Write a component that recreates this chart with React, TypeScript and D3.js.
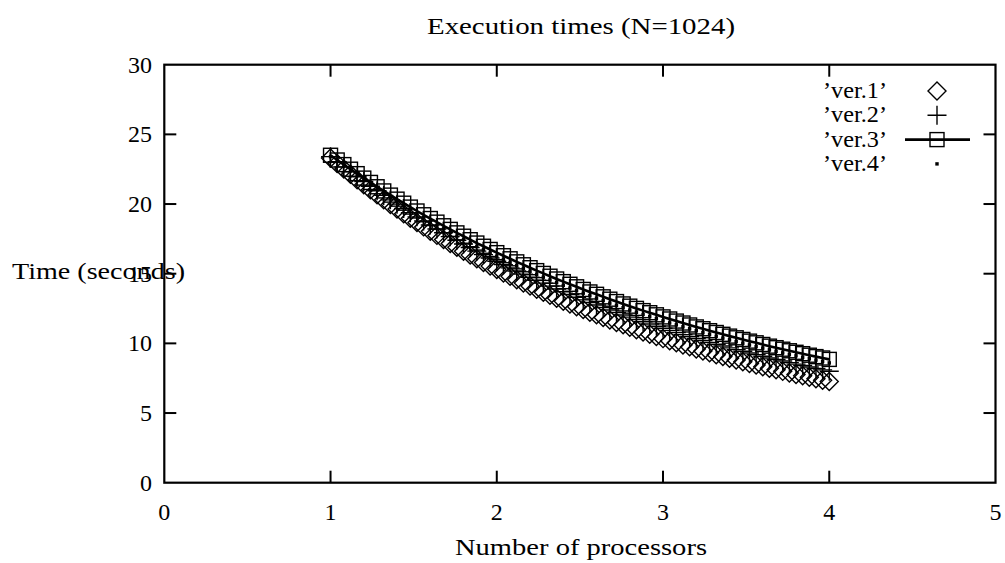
import React from "react";
import * as d3 from "d3";

const W = 1005;
const H = 563;

const processors = [
  1.00, 1.04, 1.08, 1.12, 1.16, 1.20, 1.24, 1.28, 1.32, 1.36,
  1.40, 1.44, 1.48, 1.52, 1.56, 1.60, 1.64, 1.68, 1.72, 1.76,
  1.80, 1.84, 1.88, 1.92, 1.96, 2.00, 2.04, 2.08, 2.12, 2.16,
  2.20, 2.24, 2.28, 2.32, 2.36, 2.40, 2.44, 2.48, 2.52, 2.56,
  2.60, 2.64, 2.68, 2.72, 2.76, 2.80, 2.84, 2.88, 2.92, 2.96,
  3.00, 3.04, 3.08, 3.12, 3.16, 3.20, 3.24, 3.28, 3.32, 3.36,
  3.40, 3.44, 3.48, 3.52, 3.56, 3.60, 3.64, 3.68, 3.72, 3.76,
  3.80, 3.84, 3.88, 3.92, 3.96, 4.00,
];

const ver1 = [
  23.30, 22.90, 22.51, 22.13, 21.75, 21.38, 21.02, 20.66, 20.31, 19.97,
  19.64, 19.31, 18.98, 18.67, 18.36, 18.05, 17.75, 17.46, 17.17, 16.89,
  16.61, 16.34, 16.07, 15.81, 15.55, 15.30, 15.05, 14.81, 14.57, 14.34,
  14.11, 13.89, 13.67, 13.45, 13.24, 13.03, 12.83, 12.63, 12.43, 12.24,
  12.05, 11.86, 11.68, 11.50, 11.33, 11.15, 10.98, 10.82, 10.66, 10.50,
  10.34, 10.19, 10.04, 9.89, 9.75, 9.60, 9.46, 9.33, 9.19, 9.06,
  8.93, 8.81, 8.68, 8.56, 8.44, 8.32, 8.21, 8.10, 7.99, 7.88,
  7.77, 7.67, 7.56, 7.46, 7.36, 7.27,
];

const ver2 = [
  23.40, 23.03, 22.67, 22.31, 21.96, 21.62, 21.28, 20.95, 20.62, 20.30,
  19.99, 19.68, 19.38, 19.08, 18.78, 18.50, 18.21, 17.94, 17.66, 17.40,
  17.13, 16.88, 16.62, 16.37, 16.13, 15.89, 15.65, 15.42, 15.19, 14.97,
  14.75, 14.53, 14.32, 14.11, 13.90, 13.70, 13.51, 13.31, 13.12, 12.93,
  12.75, 12.57, 12.39, 12.22, 12.04, 11.88, 11.71, 11.55, 11.39, 11.23,
  11.08, 10.93, 10.78, 10.63, 10.49, 10.35, 10.21, 10.07, 9.94, 9.81,
  9.68, 9.55, 9.43, 9.31, 9.19, 9.07, 8.95, 8.84, 8.73, 8.62,
  8.51, 8.41, 8.30, 8.20, 8.10, 8.00,
];

const ver3 = [
  23.50, 23.16, 22.83, 22.50, 22.18, 21.86, 21.55, 21.24, 20.94, 20.64,
  20.35, 20.06, 19.78, 19.50, 19.23, 18.96, 18.70, 18.44, 18.18, 17.93,
  17.69, 17.44, 17.20, 16.97, 16.74, 16.51, 16.29, 16.07, 15.85, 15.64,
  15.43, 15.22, 15.02, 14.82, 14.62, 14.43, 14.24, 14.06, 13.87, 13.69,
  13.52, 13.34, 13.17, 13.00, 12.83, 12.67, 12.51, 12.35, 12.20, 12.05,
  11.90, 11.75, 11.60, 11.46, 11.32, 11.18, 11.05, 10.91, 10.78, 10.65,
  10.52, 10.40, 10.28, 10.16, 10.04, 9.92, 9.80, 9.69, 9.58, 9.47,
  9.36, 9.26, 9.15, 9.05, 8.95, 8.85,
];

const ver4 = [
  23.40, 23.05, 22.71, 22.37, 22.04, 21.72, 21.40, 21.08, 20.77, 20.47,
  20.17, 19.88, 19.59, 19.31, 19.03, 18.75, 18.48, 18.22, 17.96, 17.70,
  17.45, 17.21, 16.96, 16.73, 16.49, 16.26, 16.03, 15.81, 15.59, 15.38,
  15.17, 14.96, 14.75, 14.55, 14.36, 14.16, 13.97, 13.78, 13.60, 13.42,
  13.24, 13.07, 12.89, 12.72, 12.56, 12.39, 12.23, 12.08, 11.92, 11.77,
  11.62, 11.47, 11.33, 11.19, 11.05, 10.91, 10.77, 10.64, 10.51, 10.38,
  10.26, 10.13, 10.01, 9.89, 9.77, 9.66, 9.54, 9.43, 9.32, 9.21,
  9.11, 9.00, 8.90, 8.80, 8.70, 8.60,
];

const xTicks = [0, 1, 2, 3, 4, 5];
const yTicks = [0, 5, 10, 15, 20, 25, 30];
const seriesNames = ["\u2019ver.1\u2019", "\u2019ver.2\u2019", "\u2019ver.3\u2019", "\u2019ver.4\u2019"];

const TITLE = "Execution times (N=1024)";
const X_LABEL = "Number of processors";
const Y_LABEL = "Time (seconds)";

const FONT = "Liberation Serif, DejaVu Serif, serif";
const textStyle = { fontFamily: FONT } as React.CSSProperties;

const left = 164.3;
const right = 995.5;
const top = 64.7;
const bottom = 482.7;

const x = d3.scaleLinear().domain([0, 5]).range([left, right]);
const y = d3.scaleLinear().domain([0, 30]).range([bottom, top]);

type Kind = "diamond" | "plus" | "square" | "dot";

function Marker({ kind, cx, cy }: { kind: Kind; cx: number; cy: number }) {
  const sw = 1.4;
  if (kind === "diamond") {
    const r = 9;
    return (
      <path
        d={`M${cx},${cy - r}L${cx + r},${cy}L${cx},${cy + r}L${cx - r},${cy}Z`}
        fill="none"
        stroke="#000"
        strokeWidth={sw}
      />
    );
  }
  if (kind === "plus") {
    const r = 9.5;
    return (
      <path
        d={`M${cx - r},${cy}H${cx + r}M${cx},${cy - r}V${cy + r}`}
        fill="none"
        stroke="#000"
        strokeWidth={sw}
      />
    );
  }
  if (kind === "square") {
    const r = 7;
    return (
      <rect x={cx - r} y={cy - r} width={2 * r} height={2 * r} fill="none" stroke="#000" strokeWidth={sw} />
    );
  }
  return <rect x={cx - 1.7} y={cy - 1.7} width={3.4} height={3.4} fill="#000" />;
}

const series: { name: string; values: number[]; kind: Kind; line: boolean }[] = [
  { name: seriesNames[0], values: ver1, kind: "diamond", line: false },
  { name: seriesNames[1], values: ver2, kind: "plus", line: false },
  { name: seriesNames[2], values: ver3, kind: "square", line: true },
  { name: seriesNames[3], values: ver4, kind: "dot", line: false },
];

export default function App() {
  const lineGen = d3
    .line<number>()
    .x((_, i) => x(processors[i]))
    .y((d) => y(d));

  const tickLen = 12;
  const legendY0 = 91;
  const legendStep = 24.3;
  const legendTextRight = 887;
  const legendSymX = 937;

  return (
    <svg
      width={W}
      height={H}
      viewBox={`0 0 ${W} ${H}`}
      style={{ position: "absolute", left: 0, top: 0, background: "#fff" }}
    >
      <rect x={0} y={0} width={W} height={H} fill="#fff" />

      <text style={textStyle} x={581} y={34} fontSize={24} textAnchor="middle" textLength={308} lengthAdjust="spacingAndGlyphs">
        {TITLE}
      </text>

      {xTicks.map((t) => (
        <g key={"xt" + t}>
          {t > 0 && t < 5 && (
            <>
              <line x1={x(t)} x2={x(t)} y1={bottom} y2={bottom - tickLen} stroke="#000" strokeWidth={2} />
              <line x1={x(t)} x2={x(t)} y1={top} y2={top + tickLen} stroke="#000" strokeWidth={2} />
            </>
          )}
          <text style={textStyle} x={x(t)} y={520} fontSize={24} textAnchor="middle">
            {t}
          </text>
        </g>
      ))}
      {yTicks.map((t) => (
        <g key={"yt" + t}>
          {t > 0 && t < 30 && (
            <>
              <line x1={left} x2={left + tickLen} y1={y(t)} y2={y(t)} stroke="#000" strokeWidth={2} />
              <line x1={right} x2={right - tickLen} y1={y(t)} y2={y(t)} stroke="#000" strokeWidth={2} />
            </>
          )}
          <text style={textStyle} x={152} y={y(t) + 8} fontSize={24} textAnchor="end">
            {t}
          </text>
        </g>
      ))}

      <rect x={left} y={top} width={right - left} height={bottom - top} fill="none" stroke="#000" strokeWidth={2.2} />

      <text style={textStyle} x={12} y={279} fontSize={24} textLength={173} lengthAdjust="spacingAndGlyphs">
        {Y_LABEL}
      </text>
      <text style={textStyle} x={581} y={555} fontSize={24} textAnchor="middle" textLength={252} lengthAdjust="spacingAndGlyphs">
        {X_LABEL}
      </text>

      {series.map((s) => (
        <g key={s.name}>
          {s.line && <path d={lineGen(s.values) || ""} fill="none" stroke="#000" strokeWidth={2.6} />}
          {s.values.map((v, i) => (
            <Marker key={i} kind={s.kind} cx={x(processors[i])} cy={y(v)} />
          ))}
        </g>
      ))}

      {series.map((s, i) => {
        const cy = legendY0 + i * legendStep;
        return (
          <g key={"lg" + s.name}>
            <text
              style={textStyle}
              x={legendTextRight}
              y={cy + 7}
              fontSize={24}
              textAnchor="end"
              textLength={64}
              lengthAdjust="spacingAndGlyphs"
            >
              {s.name}
            </text>
            {s.line && <line x1={905} x2={970} y1={cy} y2={cy} stroke="#000" strokeWidth={2.8} />}
            <Marker kind={s.kind} cx={legendSymX} cy={cy} />
          </g>
        );
      })}
    </svg>
  );
}
